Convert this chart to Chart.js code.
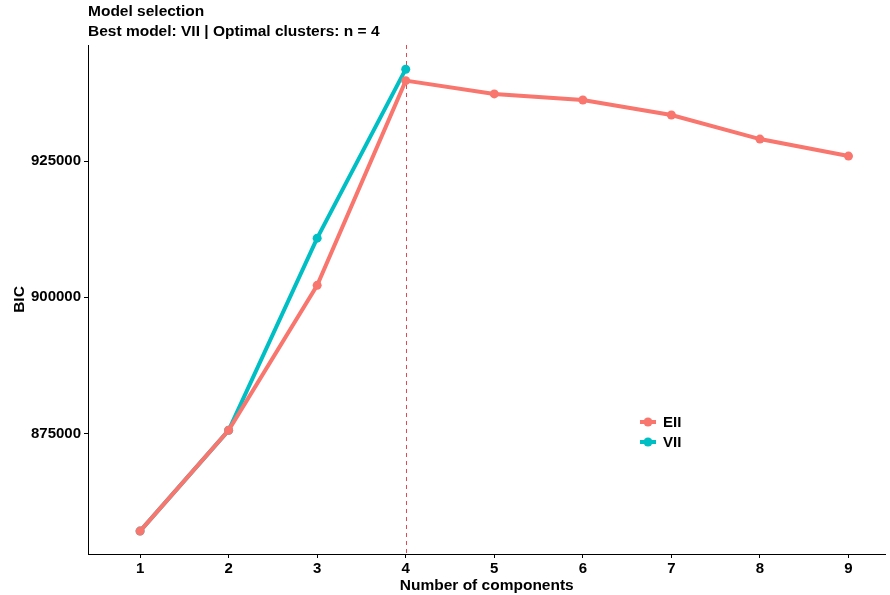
<!DOCTYPE html>
<html>
<head>
<meta charset="utf-8">
<script src="https://cdn.jsdelivr.net/npm/chart.js@4/dist/chart.umd.min.js"></script>
<style>
  html, body { margin: 0; padding: 0; background: #fff; }
  #wrap { width: 890px; height: 595px; }
</style>
</head>
<body>
<div id="wrap"><canvas id="bic"></canvas></div>
<script>
// BIC by number of mixture components
var components = [1, 2, 3, 4, 5, 6, 7, 8, 9];
var bicEII = [857100, 875600, 902200, 939760, 937320, 936210, 933460, 929040, 925920];
var bicVII = [857100, 875600, 910850, 941860];
var yTicks = [875000, 900000, 925000];
var bestK = 4;

var FONT = '"Liberation Sans", Arial, sans-serif';

function pairs(ys) {
    return ys.map(function(v, i) { return {x: components[i], y: v}; });
}

// titles, dashed marker at the optimal k, and the inset legend
var decor = {
    id: 'decor',
    beforeDatasetsDraw: function(chart) {
        var ctx = chart.ctx, area = chart.chartArea;
        var x = Math.round(chart.scales.x.getPixelForValue(bestK)) + 0.5;
        ctx.save();
        ctx.strokeStyle = '#e5474b';
        ctx.lineWidth = 1;
        ctx.setLineDash([4, 4]);
        ctx.beginPath();
        ctx.moveTo(x, area.top);
        ctx.lineTo(x, area.bottom);
        ctx.stroke();
        ctx.restore();
    },
    afterDraw: function(chart) {
        var ctx = chart.ctx;
        ctx.save();
        ctx.fillStyle = '#000';
        ctx.font = 'bold 15.5px ' + FONT;
        ctx.textBaseline = 'middle';
        ctx.textAlign = 'left';
        ctx.fillText('Model selection', 88, 12);
        ctx.fillText('Best model: VII | Optimal clusters: n = 4', 88, 32);

        var lx = 648, ly = 422;
        ctx.font = 'bold 15px ' + FONT;
        chart.data.datasets.forEach(function(ds, i) {
            var y = ly + i * 20;
            ctx.strokeStyle = ds.borderColor;
            ctx.fillStyle = ds.borderColor;
            ctx.lineWidth = 4;
            ctx.beginPath();
            ctx.moveTo(lx - 8, y);
            ctx.lineTo(lx + 8, y);
            ctx.stroke();
            ctx.beginPath();
            ctx.arc(lx, y, 4.5, 0, Math.PI * 2);
            ctx.fill();
            ctx.fillStyle = '#000';
            ctx.fillText(ds.label, lx + 15, y + 1);
        });
        ctx.restore();
    }
};

new Chart(document.getElementById('bic'), {
    type: 'line',
    data: {
        datasets: [
            {
                label: 'EII',
                data: pairs(bicEII),
                borderColor: '#F8766D',
                backgroundColor: '#F8766D',
                borderWidth: 4,
                pointRadius: 4.5,
                pointBorderWidth: 0,
                tension: 0
            },
            {
                label: 'VII',
                data: pairs(bicVII),
                borderColor: '#00BFC4',
                backgroundColor: '#00BFC4',
                borderWidth: 4,
                pointRadius: 4.5,
                pointBorderWidth: 0,
                tension: 0
            }
        ]
    },
    options: {
        responsive: true,
        maintainAspectRatio: false,
        animation: false,
        layout: { padding: { top: 45, right: 0, left: 0, bottom: 0 } },
        plugins: {
            legend: { display: false },
            tooltip: { enabled: false }
        },
        scales: {
            x: {
                type: 'linear',
                min: 0.412,
                max: 9.418,
                afterBuildTicks: function(s) {
                    s.ticks = components.map(function(v) { return {value: v}; });
                },
                afterFit: function(s) {
                    s.height = 41;
                    s.paddingLeft = 0;
                    s.paddingRight = 0;
                },
                grid: {
                    drawOnChartArea: false,
                    color: '#000',
                    tickLength: 4,
                    tickColor: '#000'
                },
                border: { color: '#000', width: 1 },
                ticks: {
                    color: '#000',
                    padding: 2,
                    font: { family: FONT, size: 15, weight: 'bold' }
                },
                title: {
                    display: true,
                    text: 'Number of components',
                    color: '#000',
                    padding: { top: 0, bottom: 0 },
                    font: { family: FONT, size: 15.5, weight: 'bold' }
                }
            },
            y: {
                min: 852900,
                max: 946300,
                afterBuildTicks: function(s) {
                    s.ticks = yTicks.map(function(v) { return {value: v}; });
                },
                afterFit: function(s) {
                    s.width = 88;
                    s.paddingTop = 0;
                    s.paddingBottom = 0;
                },
                grid: {
                    drawOnChartArea: false,
                    tickLength: 4,
                    tickColor: '#000'
                },
                border: { color: '#000', width: 1 },
                ticks: {
                    color: '#000',
                    padding: 3,
                    font: { family: FONT, size: 15, weight: 'bold' },
                    callback: function(v) { return String(v); }
                },
                title: {
                    display: true,
                    text: 'BIC',
                    color: '#000',
                    padding: { top: 10, bottom: 0 },
                    font: { family: FONT, size: 15.5, weight: 'bold' }
                }
            }
        }
    },
    plugins: [decor]
});
</script>
</body>
</html>
